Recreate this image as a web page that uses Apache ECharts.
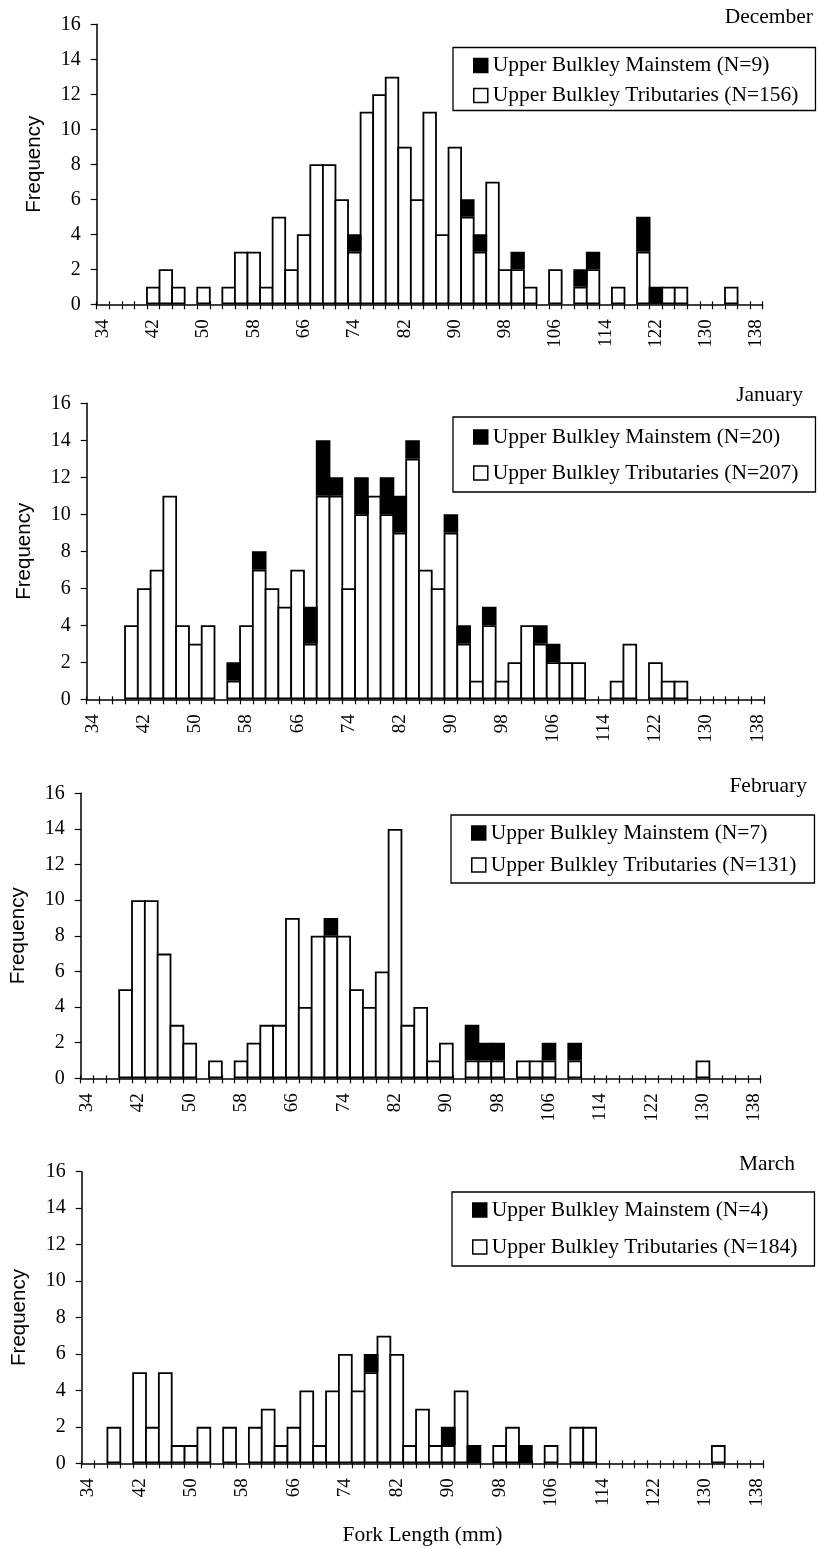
<!DOCTYPE html>
<html>
<head>
<meta charset="utf-8">
<script src="https://cdn.jsdelivr.net/npm/echarts@6/dist/echarts.min.js"></script>
<style>
  html, body { margin: 0; padding: 0; background: #fff; }
  #chart { width: 818px; height: 1548px; }
</style>
</head>
<body>
<div id="chart"></div>
<script>
// Fork-length bins (mm), one bar per 2 mm class
const bins = [
  34, 36, 38, 40, 42, 44, 46, 48, 50, 52,
  54, 56, 58, 60, 62, 64, 66, 68, 70, 72,
  74, 76, 78, 80, 82, 84, 86, 88, 90, 92,
  94, 96, 98, 100, 102, 104, 106, 108, 110, 112,
  114, 116, 118, 120, 122, 124, 126, 128, 130, 132,
  134, 136, 138
];

const months = ['December', 'January', 'February', 'March'];
const mainstemNames = [
  'Upper Bulkley Mainstem (N=9)',
  'Upper Bulkley Mainstem (N=20)',
  'Upper Bulkley Mainstem (N=7)',
  'Upper Bulkley Mainstem (N=4)'
];
const tributaryNames = [
  'Upper Bulkley Tributaries (N=156)',
  'Upper Bulkley Tributaries (N=207)',
  'Upper Bulkley Tributaries (N=131)',
  'Upper Bulkley Tributaries (N=184)'
];

// Counts per bin, December
const decTrib = [
  0, 0, 0, 0, 1, 2, 1, 0, 1, 0,
  1, 3, 3, 1, 5, 2, 4, 8, 8, 6,
  3, 11, 12, 13, 9, 6, 11, 4, 9, 5,
  3, 7, 2, 2, 1, 0, 2, 0, 1, 2,
  0, 1, 0, 3, 0, 1, 1, 0, 0, 0,
  1, 0, 0
];
const decMain = [
  0, 0, 0, 0, 0, 0, 0, 0, 0, 0,
  0, 0, 0, 0, 0, 0, 0, 0, 0, 0,
  1, 0, 0, 0, 0, 0, 0, 0, 0, 1,
  1, 0, 0, 1, 0, 0, 0, 0, 1, 1,
  0, 0, 0, 2, 1, 0, 0, 0, 0, 0,
  0, 0, 0
];

// January
const janTrib = [
  0, 0, 0, 4, 6, 7, 11, 4, 3, 4,
  0, 1, 4, 7, 6, 5, 7, 3, 11, 11,
  6, 10, 11, 10, 9, 13, 7, 6, 9, 3,
  1, 4, 1, 2, 4, 3, 2, 2, 2, 0,
  0, 1, 3, 0, 2, 1, 1, 0, 0, 0,
  0, 0, 0
];
const janMain = [
  0, 0, 0, 0, 0, 0, 0, 0, 0, 0,
  0, 1, 0, 1, 0, 0, 0, 2, 3, 1,
  0, 2, 0, 2, 2, 1, 0, 0, 1, 1,
  0, 1, 0, 0, 0, 1, 1, 0, 0, 0,
  0, 0, 0, 0, 0, 0, 0, 0, 0, 0,
  0, 0, 0
];

// February
const febTrib = [
  0, 0, 0, 5, 10, 10, 7, 3, 2, 0,
  1, 0, 1, 2, 3, 3, 9, 4, 8, 8,
  8, 5, 4, 6, 14, 3, 4, 1, 2, 0,
  1, 1, 1, 0, 1, 1, 1, 0, 1, 0,
  0, 0, 0, 0, 0, 0, 0, 0, 1, 0,
  0, 0, 0
];
const febMain = [
  0, 0, 0, 0, 0, 0, 0, 0, 0, 0,
  0, 0, 0, 0, 0, 0, 0, 0, 0, 1,
  0, 0, 0, 0, 0, 0, 0, 0, 0, 0,
  2, 1, 1, 0, 0, 0, 1, 0, 1, 0,
  0, 0, 0, 0, 0, 0, 0, 0, 0, 0,
  0, 0, 0
];

// March
const marTrib = [
  0, 0, 2, 0, 5, 2, 5, 1, 1, 2,
  0, 2, 0, 2, 3, 1, 2, 4, 1, 4,
  6, 4, 5, 7, 6, 1, 3, 1, 1, 4,
  0, 0, 1, 2, 0, 0, 1, 0, 2, 2,
  0, 0, 0, 0, 0, 0, 0, 0, 0, 1,
  0, 0, 0
];
const marMain = [
  0, 0, 0, 0, 0, 0, 0, 0, 0, 0,
  0, 0, 0, 0, 0, 0, 0, 0, 0, 0,
  0, 0, 1, 0, 0, 0, 0, 0, 1, 0,
  1, 0, 0, 0, 1, 0, 0, 0, 0, 0,
  0, 0, 0, 0, 0, 0, 0, 0, 0, 0,
  0, 0, 0
];

const tribSets = [decTrib, janTrib, febTrib, marTrib];
const mainSets = [decMain, janMain, febMain, marMain];

const xAxisTitle = 'Fork Length (mm)';
const yAxisTitle = 'Frequency';

// Panel placement (pixels)
const CHART_WIDTH = 818;
const layout = [
  { left: 96.7, right: 55.3, top: 24.3,  height: 280,   titleRight: 5,  titleTop: 6,    legendLeft: 453, legendTop: 47.5, legendPad: [7, 17, 4, 20], legendGap: 8 },
  { left: 86.7, right: 54,   top: 403.3, height: 296,   titleRight: 15, titleTop: 384,  legendLeft: 453, legendTop: 417,  legendPad: [9, 17, 8, 20], legendGap: 14 },
  { left: 80.7, right: 57.3, top: 793.3, height: 285,   titleRight: 11, titleTop: 775,  legendLeft: 451, legendTop: 815,  legendPad: [7, 18, 7, 20], legendGap: 10 },
  { left: 81.7, right: 54.7, top: 1171.7, height: 291.6, titleRight: 23, titleTop: 1153, legendLeft: 452, legendTop: 1192, legendPad: [7, 17, 8, 20], legendGap: 15 }
];

const SERIF = '"Liberation Serif", "Times New Roman", serif';
const SANS = '"Liberation Sans", Arial, sans-serif';
const INK = '#000';
const BAR_LINE = 1.8;
const binLabels = bins.map(String);
const n = layout.length;

const grid = [], xAxis = [], yAxis = [], series = [], title = [], legend = [];

layout.forEach((L, i) => {
  grid.push({ left: L.left, right: L.right, top: L.top, height: L.height, outerBoundsMode: 'none' });

  title.push({
    text: months[i], right: L.titleRight, top: L.titleTop, padding: 0,
    textStyle: { fontFamily: SERIF, fontSize: 21.5, fontWeight: 'normal', color: INK }
  });

  legend.push({
    orient: 'vertical', left: L.legendLeft, top: L.legendTop,
    padding: L.legendPad, itemGap: L.legendGap,
    icon: 'rect', itemWidth: 14, itemHeight: 14,
    borderColor: INK, borderWidth: 1.3, backgroundColor: '#fff',
    selectedMode: false,
    data: [
      { name: mainstemNames[i], itemStyle: { color: INK, borderColor: INK, borderWidth: 1.5 } },
      { name: tributaryNames[i], itemStyle: { color: '#fff', borderColor: INK, borderWidth: 1.5 } }
    ],
    textStyle: { fontFamily: SERIF, fontSize: 21.5, color: INK, lineHeight: 22 }
  });

  const isLast = i === n - 1;
  xAxis.push({
    type: 'category', gridIndex: i, data: binLabels,
    axisLine: { show: true, lineStyle: { color: INK, width: 1.5 } },
    axisTick: { show: true, interval: 0, length: 5, lineStyle: { color: INK, width: 1.2 } },
    axisLabel: { interval: 3, rotate: 90, margin: 15, fontFamily: SERIF, fontSize: 19, color: INK },
    splitLine: { show: false },
    name: isLast ? xAxisTitle : '',
    nameLocation: 'middle', nameGap: 61, nameMoveOverlap: false,
    nameTextStyle: { fontFamily: SERIF, fontSize: 21.5, color: INK }
  });

  yAxis.push({
    type: 'value', gridIndex: i, min: 0, max: 16, interval: 2,
    axisLine: { show: true, lineStyle: { color: INK, width: 1.5 } },
    axisTick: { show: true, length: 6, lineStyle: { color: INK, width: 1.2 } },
    axisLabel: { margin: 16, fontFamily: SERIF, fontSize: 20, color: INK },
    splitLine: { show: false },
    name: yAxisTitle, nameLocation: 'middle', nameGap: 52, nameMoveOverlap: false,
    nameTextStyle: { fontFamily: SANS, fontSize: 20.5, color: INK }
  });

  // Bars draw their outline inside their own box; widening each bar by one line width
  // lets neighbouring outlines fall on the shared bin edge as a single line.
  const band = (CHART_WIDTH - L.left - L.right) / bins.length;
  const barBase = {
    type: 'bar', xAxisIndex: i, yAxisIndex: i, stack: 'month' + i,
    barWidth: '100%', barMinWidth: band + BAR_LINE, barCategoryGap: '0%', barGap: '0%',
    silent: true, animation: false,
    emphasis: { disabled: true }
  };
  // Tributary fish form the bottom of each stack, mainstem fish sit on top
  series.push(Object.assign({}, barBase, {
    name: tributaryNames[i],
    data: tribSets[i].map(v => (v === 0 ? null : v)),
    itemStyle: { color: '#fff', borderColor: INK, borderWidth: BAR_LINE }
  }));
  series.push(Object.assign({}, barBase, {
    name: mainstemNames[i],
    data: mainSets[i].map(v => (v === 0 ? null : v)),
    itemStyle: { color: INK, borderColor: INK, borderWidth: BAR_LINE }
  }));
});

// Second set of coincident grids: short inward ticks so each x tick crosses the axis line
layout.forEach((L, i) => {
  grid.push({ left: L.left, right: L.right, top: L.top, height: L.height, outerBoundsMode: 'none' });
  xAxis.push({
    type: 'category', gridIndex: n + i, data: binLabels,
    axisLine: { show: false },
    axisTick: { show: true, inside: true, interval: 0, length: 3, lineStyle: { color: INK, width: 1.2 } },
    axisLabel: { show: false },
    splitLine: { show: false }
  });
  yAxis.push({ type: 'value', gridIndex: n + i, min: 0, max: 16, show: false });
});

const chart = echarts.init(document.getElementById('chart'), null, { renderer: 'canvas' });
chart.setOption({
  backgroundColor: '#fff',
  animation: false,
  title, legend, grid, xAxis, yAxis, series
});
</script>
</body>
</html>
